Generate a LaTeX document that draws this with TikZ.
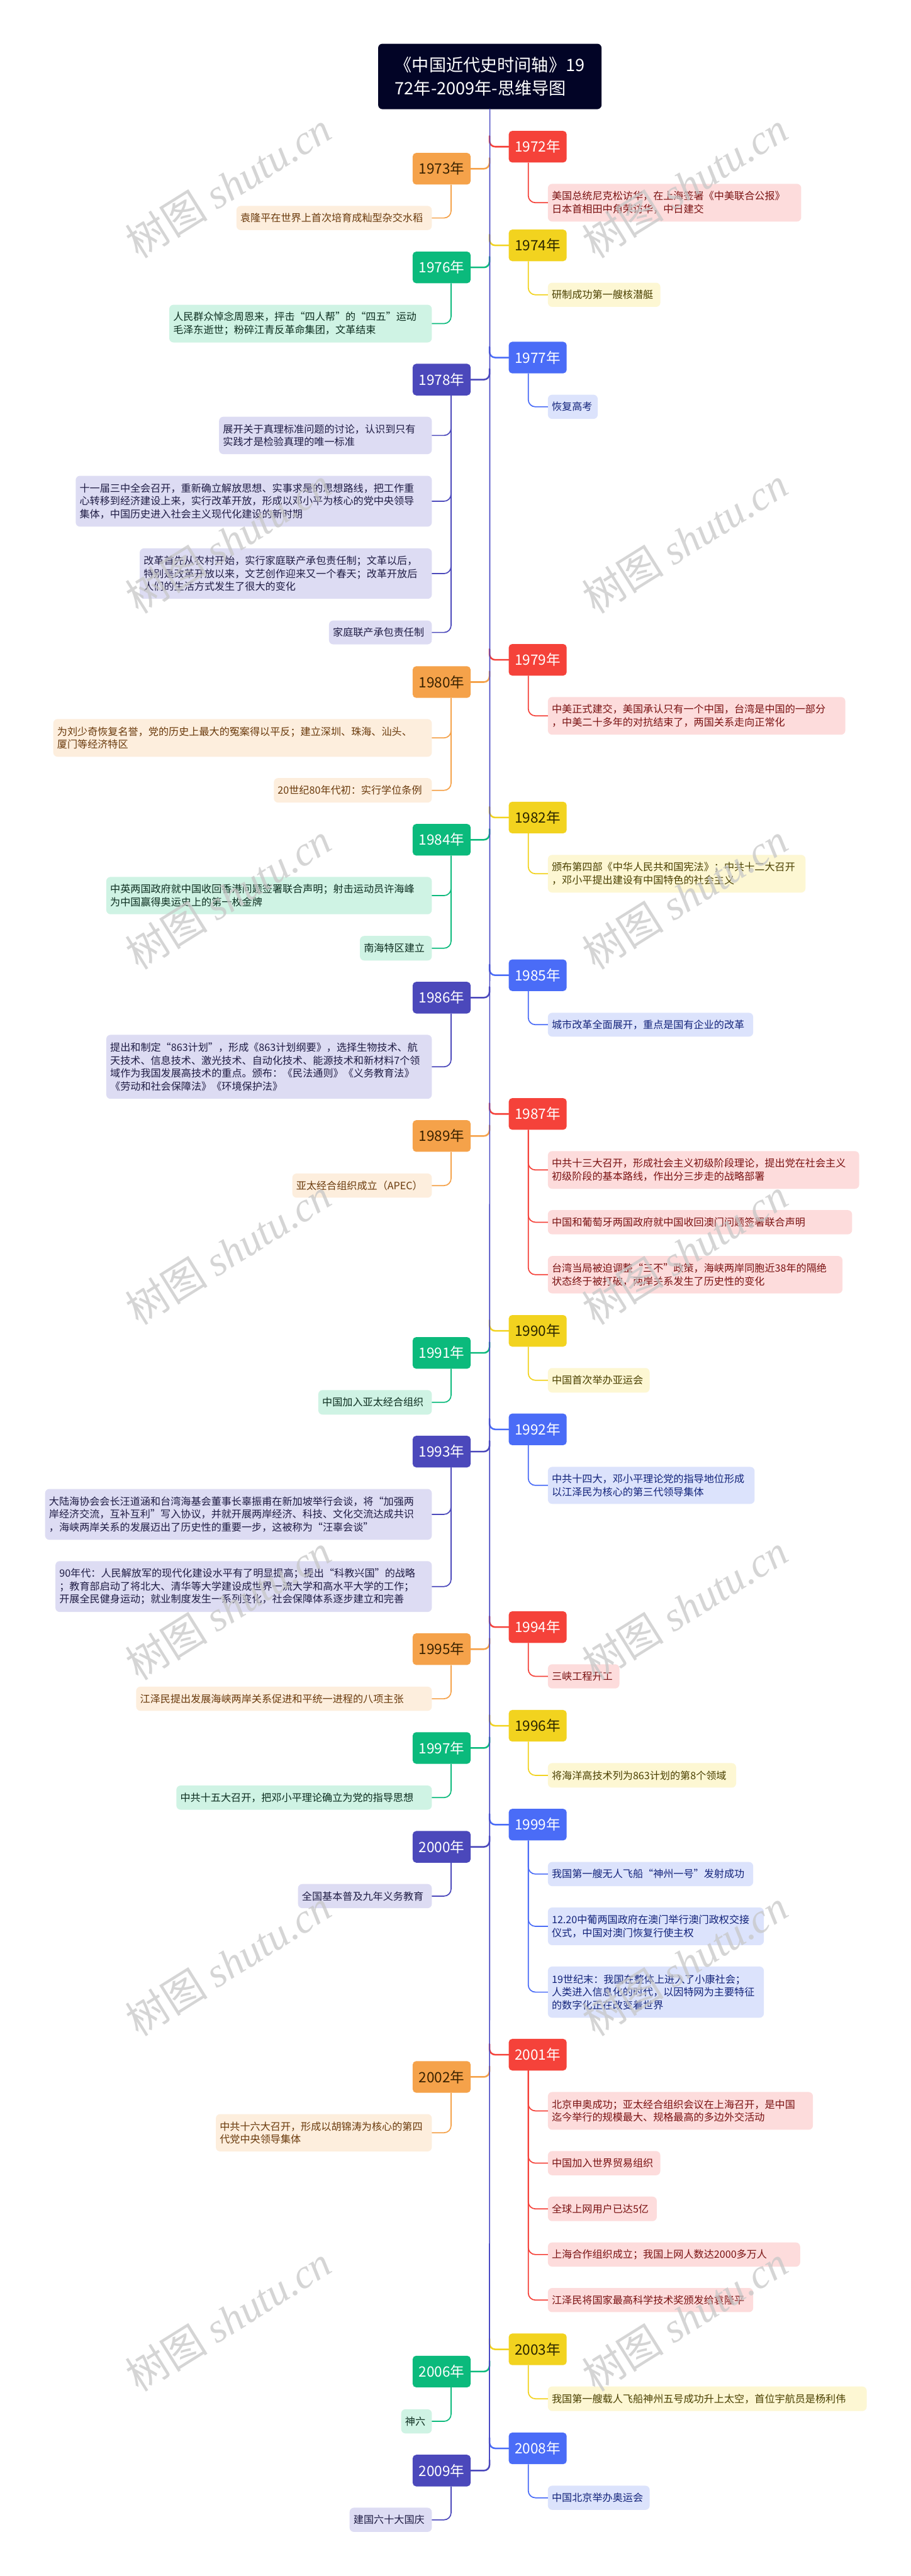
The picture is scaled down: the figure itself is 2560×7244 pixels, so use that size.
\documentclass[tikz,border=0pt]{standalone}
\usepackage{fontspec}
\setmainfont{Noto Sans CJK SC}
\newfontfamily\cjk{Noto Sans CJK SC}
\newfontfamily\wmserif{Liberation Serif}
\definecolor{ktrunk}{HTML}{4A4AC4}
\definecolor{ktitle}{HTML}{020426}
\definecolor{kred}{HTML}{F5423A}
\definecolor{lred}{HTML}{FDDCDC}
\definecolor{tred}{HTML}{7A1212}
\definecolor{korange}{HTML}{F5A24A}
\definecolor{lorange}{HTML}{FDEEDD}
\definecolor{torange}{HTML}{6A3A0C}
\definecolor{yorangetext}{HTML}{3A2200}
\definecolor{kyellow}{HTML}{F2D31F}
\definecolor{lyellow}{HTML}{FDF7D3}
\definecolor{tyellow}{HTML}{4A4000}
\definecolor{yyellowtext}{HTML}{2A2500}
\definecolor{kgreen}{HTML}{0BBA7C}
\definecolor{lgreen}{HTML}{CFF3E4}
\definecolor{tgreen}{HTML}{0D2E20}
\definecolor{kblue}{HTML}{4A6CF7}
\definecolor{lblue}{HTML}{DCE3FC}
\definecolor{tblue}{HTML}{13237A}
\definecolor{kindigo}{HTML}{4B48BB}
\definecolor{lindigo}{HTML}{DDDCF3}
\definecolor{tindigo}{HTML}{1F1C44}
\tikzset{
  yearbox/.style={rounded corners=10pt, minimum width=163pt, minimum height=89pt, inner sep=0pt, font=\fontsize{40}{48}\selectfont},
  yred/.style={fill=kred, text=white},
  yorange/.style={fill=korange, text=yorangetext},
  yyellow/.style={fill=kyellow, text=yyellowtext},
  ygreen/.style={fill=kgreen, text=white},
  yblue/.style={fill=kblue, text=white},
  yindigo/.style={fill=kindigo, text=white},
  childbox/.style={rounded corners=12pt, inner xsep=11pt, inner ysep=0pt, align=left, font=\fontsize{28.5}{36.5}\selectfont},
  cred/.style={fill=lred, text=tred},
  corange/.style={fill=lorange, text=torange},
  cyellow/.style={fill=lyellow, text=tyellow},
  cgreen/.style={fill=lgreen, text=tgreen},
  cblue/.style={fill=lblue, text=tblue},
  cindigo/.style={fill=lindigo, text=tindigo},
  yconn/.style={line width=4.5pt, rounded corners=16pt, line cap=round},
  cconn/.style={line width=3pt, rounded corners=20pt},
  trunkline/.style={line width=3pt, draw=ktrunk, line cap=round},
  titlebox/.style={fill=ktitle, text=white, rounded corners=12pt, minimum width=628pt, minimum height=184pt, inner sep=0pt, align=left, font=\fontsize{48}{64}\selectfont},
  wmark/.style={text=black!22, opacity=0.75, rotate=32, inner sep=0pt, font=\fontsize{116}{120}\selectfont},
}
\newcommand\RYear[3]{%
  \coordinate (t#1) at (1376,#2-30);
  \node[yearbox, y#3] (y#1) at (1511.5,#2) {#1年};
  \draw[yconn, draw=k#3] (t#1) |- (y#1.west);
}
\newcommand\LYear[3]{%
  \coordinate (t#1) at (1376,#2-30);
  \node[yearbox, y#3] (y#1) at (1241.5,#2) {#1年};
  \draw[yconn, draw=k#3] (t#1) |- (y#1.east);
}
\newcommand\RChild[7]{%
  \pgfmathsetmacro\cw{#3-1540-22}%
  \pgfmathsetmacro\ch{#5-#4}%
  \pgfmathsetmacro\cy{(#4+#5)/2}%
  \node[childbox, c#6, anchor=west, minimum height=\ch pt, text width=\cw pt] (#1) at (1540,\cy) {#7};
  \draw[cconn, draw=k#6] ([xshift=-26.5pt]y#2.south) |- (#1.west);
}
\newcommand\LChild[7]{%
  \pgfmathsetmacro\cw{1214-#3-22}%
  \pgfmathsetmacro\ch{#5-#4}%
  \pgfmathsetmacro\cy{(#4+#5)/2}%
  \node[childbox, c#6, anchor=east, minimum height=\ch pt, text width=\cw pt] (#1) at (1214,\cy) {#7};
  \draw[cconn, draw=k#6] ([xshift=26.5pt]y#2.south) |- (#1.east);
}
\newcommand\WMark[3]{\node[wmark] (#1) at (#2,#3) {{\cjk 树图} {\wmserif\itshape shutu.cn}};}
\begin{document}
\begin{tikzpicture}[x=1pt,y=-1pt]
\useasboundingbox[fill=white] (0,0) rectangle (2560,7244);
\node[titlebox] (title) at (1377,215) {《中国近代史时间轴》19\\72年-2009年-思维导图};
% right years
\RYear{1972}{412.5}{red}
\RYear{1974}{690}{yellow}
\RYear{1977}{1005.5}{blue}
\RYear{1979}{1855.5}{red}
\RYear{1982}{2299}{yellow}
\RYear{1985}{2742.5}{blue}
\RYear{1987}{3132.5}{red}
\RYear{1990}{3742.5}{yellow}
\RYear{1992}{4019.5}{blue}
\RYear{1994}{4575.5}{red}
\RYear{1996}{4853}{yellow}
\RYear{1999}{5131}{blue}
\RYear{2001}{5778}{red}
\RYear{2003}{6606.5}{yellow}
\RYear{2008}{6885}{blue}
% left years
\LYear{1973}{474.5}{orange}
\LYear{1976}{752}{green}
\LYear{1978}{1067.5}{indigo}
\LYear{1980}{1918}{orange}
\LYear{1984}{2361.5}{green}
\LYear{1986}{2805.5}{indigo}
\LYear{1989}{3194.5}{orange}
\LYear{1991}{3804.5}{green}
\LYear{1993}{4082}{indigo}
\LYear{1995}{4637.5}{orange}
\LYear{1997}{4915.5}{green}
\LYear{2000}{5193.5}{indigo}
\LYear{2002}{5840.5}{orange}
\LYear{2006}{6669}{green}
\LYear{2009}{6947.5}{indigo}
% trunk
\draw[trunkline] (title.south) -- (t2009);
% right children
\RChild{c1972}{1972}{2252}{517}{623}{red}{美国总统尼克松访华，在上海签署《中美联合公报》\\日本首相田中角荣访华，中日建交}
\RChild{c1974}{1974}{1856}{795}{863}{yellow}{研制成功第一艘核潜艇}
\RChild{c1977}{1977}{1680}{1110}{1178}{blue}{恢复高考}
\RChild{c1979}{1979}{2376}{1960}{2066}{red}{中美正式建交，美国承认只有一个中国，台湾是中国的一部分\\，中美二十多年的对抗结束了，两国关系走向正常化}
\RChild{c1982}{1982}{2264}{2404}{2510}{yellow}{颁布第四部《中华人民共和国宪法》；中共十二大召开\\，邓小平提出建设有中国特色的社会主义}
\RChild{c1985}{1985}{2117}{2848}{2915}{blue}{城市改革全面展开，重点是国有企业的改革}
\RChild{c1987a}{1987}{2415}{3237}{3343}{red}{中共十三大召开，形成社会主义初级阶段理论，提出党在社会主义\\初级阶段的基本路线，作出分三步走的战略部署}
\RChild{c1987b}{1987}{2395}{3403}{3471}{red}{中国和葡萄牙两国政府就中国收回澳门问题签署联合声明}
\RChild{c1987c}{1987}{2368}{3532}{3637}{red}{台湾当局被迫调整“三不”政策，海峡两岸同胞近38年的隔绝\\状态终于被打破，两岸关系发生了历史性的变化}
\RChild{c1990}{1990}{1826}{3847}{3916}{yellow}{中国首次举办亚运会}
\RChild{c1992}{1992}{2121}{4125}{4229}{blue}{中共十四大，邓小平理论党的指导地位形成\\以江泽民为核心的第三代领导集体}
\RChild{c1994}{1994}{1741}{4680}{4748}{red}{三峡工程开工}
\RChild{c1996}{1996}{2069}{4958}{5027}{yellow}{将海洋高技术列为863计划的第8个领域}
\RChild{c1999a}{1999}{2117}{5236}{5304}{blue}{我国第一艘无人飞船“神州一号”发射成功}
\RChild{c1999b}{1999}{2147}{5364}{5470}{blue}{12.20中葡两国政府在澳门举行澳门政权交接\\仪式，中国对澳门恢复行使主权}
\RChild{c1999c}{1999}{2147}{5530}{5674}{blue}{19世纪末：我国在整体上进入了小康社会；\\人类进入信息化的时代，以因特网为主要特征\\的数字化正在改变着世界}
\RChild{c2001a}{2001}{2285}{5883}{5989}{red}{北京申奥成功；亚太经合组织会议在上海召开，是中国\\迄今举行的规模最大、规格最高的多边外交活动}
\RChild{c2001b}{2001}{1856}{6049}{6117}{red}{中国加入世界贸易组织}
\RChild{c2001c}{2001}{1846}{6177}{6246}{red}{全球上网用户已达5亿}
\RChild{c2001d}{2001}{2249}{6306}{6374}{red}{上海合作组织成立；我国上网人数达2000多万人}
\RChild{c2001e}{2001}{2117}{6434}{6502}{red}{江泽民将国家最高科学技术奖颁发给袁隆平}
\RChild{c2003}{2003}{2436}{6711}{6780}{yellow}{我国第一艘载人飞船神州五号成功升上太空，首位宇航员是杨利伟}
\RChild{c2008}{2008}{1826}{6990}{7058}{blue}{中国北京举办奥运会}
% left children
\LChild{c1973}{1973}{665}{579}{647}{orange}{袁隆平在世界上首次培育成籼型杂交水稻}
\LChild{c1976}{1976}{476}{857}{963}{green}{人民群众悼念周恩来，抨击“四人帮”的“四五”运动\\毛泽东逝世；粉碎江青反革命集团，文革结束}
\LChild{c1978a}{1978}{616}{1172}{1277}{indigo}{展开关于真理标准问题的讨论，认识到只有\\实践才是检验真理的唯一标准}
\LChild{c1978b}{1978}{213}{1338}{1481}{indigo}{十一届三中全会召开，重新确立解放思想、实事求是的思想路线，把工作重\\心转移到经济建设上来，实行改革开放，形成以邓小平为核心的党中央领导\\集体，中国历史进入社会主义现代化建设的新时期}
\LChild{c1978c}{1978}{393}{1542}{1684}{indigo}{改革首先从农村开始，实行家庭联产承包责任制；文革以后，\\特别是改革开放以来，文艺创作迎来又一个春天；改革开放后\\人们的生活方式发生了很大的变化}
\LChild{c1978d}{1978}{925}{1745}{1812}{indigo}{家庭联产承包责任制}
\LChild{c1980a}{1980}{150}{2022}{2128}{orange}{为刘少奇恢复名誉，党的历史上最大的冤案得以平反；建立深圳、珠海、汕头、\\厦门等经济特区}
\LChild{c1980b}{1980}{770}{2188}{2257}{orange}{20世纪80年代初：实行学位条例}
\LChild{c1984a}{1984}{299}{2466}{2571}{green}{中英两国政府就中国收回香港问题签署联合声明；射击运动员许海峰\\为中国赢得奥运史上的第一枚金牌}
\LChild{c1984b}{1984}{1012}{2632}{2701}{green}{南海特区建立}
\LChild{c1986}{1986}{299}{2910}{3090}{indigo}{提出和制定“863计划”，形成《863计划纲要》，选择生物技术、航\\天技术、信息技术、激光技术、自动化技术、能源技术和新材料7个领\\域作为我国发展高技术的重点。颁布：《民法通则》《义务教育法》\\《劳动和社会保障法》《环境保护法》}
\LChild{c1989}{1989}{822}{3300}{3368}{orange}{亚太经合组织成立（APEC）}
\LChild{c1991}{1991}{895}{3909}{3978}{green}{中国加入亚太经合组织}
\LChild{c1993a}{1993}{127}{4187}{4330}{indigo}{大陆海协会会长汪道涵和台湾海基会董事长辜振甫在新加坡举行会谈，将“加强两\\岸经济交流，互补互利”写入协议，并就开展两岸经济、科技、文化交流达成共识\\，海峡两岸关系的发展迈出了历史性的重要一步，这被称为“汪辜会谈”}
\LChild{c1993b}{1993}{156}{4390}{4533}{indigo}{90年代：人民解放军的现代化建设水平有了明显提高；提出“科教兴国”的战略\\；教育部启动了将北大、清华等大学建设成世界一流大学和高水平大学的工作；\\开展全民健身运动；就业制度发生一系列变化，社会保障体系逐步建立和完善}
\LChild{c1995}{1995}{383}{4743}{4811}{orange}{江泽民提出发展海峡两岸关系促进和平统一进程的八项主张}
\LChild{c1997}{1997}{496}{5021}{5089}{green}{中共十五大召开，把邓小平理论确立为党的指导思想}
\LChild{c2000}{2000}{838}{5298}{5366}{indigo}{全国基本普及九年义务教育}
\LChild{c2002}{2002}{607}{5945}{6050}{orange}{中共十六大召开，形成以胡锦涛为核心的第四\\代党中央领导集体}
\LChild{c2006}{2006}{1128}{6775}{6843}{green}{神六}
\LChild{c2009}{2009}{983}{7052}{7120}{indigo}{建国六十大国庆}
% watermarks
\foreach \k in {0,...,6}{
  \pgfmathsetmacro\wy{520+1000*\k}
  \WMark{wl\k}{642}{\wy}
  \WMark{wr\k}{1925}{\wy}
}
\end{tikzpicture}
\end{document}
